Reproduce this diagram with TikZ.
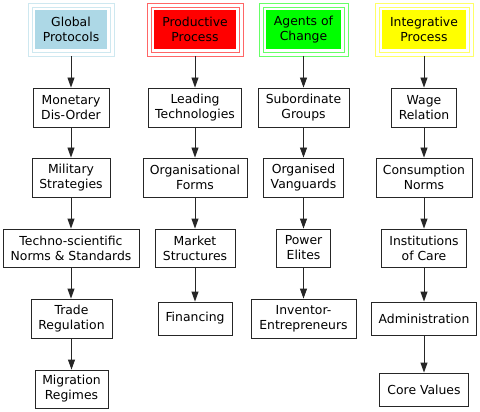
\documentclass[tikz,border=0pt]{standalone}
\usepackage{fontspec}
\setmainfont{DejaVu Sans}
\usetikzlibrary{arrows.meta}
\definecolor{hblue}{HTML}{ADD8E6}
\definecolor{hred}{HTML}{FF0000}
\definecolor{hgreen}{HTML}{00FF00}
\definecolor{hyellow}{HTML}{FFFF00}
\tikzset{
  box/.style={draw=black!85, line width=0.9pt, inner sep=0pt, align=center,
    font=\fontsize{12.4}{15}\selectfont, minimum height=39pt},
  hdr/.style={draw=#1!60, line width=0.8pt, inner sep=0pt, align=center,
    font=\fontsize{12.4}{15}\selectfont, minimum height=53pt,
    path picture={
      \fill[#1] ([xshift=7pt,yshift=-7pt]path picture bounding box.north west)
        rectangle ([xshift=-7pt,yshift=7pt]path picture bounding box.south east);
      \draw[#1!60, line width=0.8pt] ([xshift=4pt,yshift=-4pt]path picture bounding box.north west)
        rectangle ([xshift=-4pt,yshift=4pt]path picture bounding box.south east);
    }},
  arr/.style={draw=black!85, line width=0.9pt, -{Triangle[length=10pt,width=7pt]}}
}
\begin{document}
\begin{tikzpicture}[x=1pt,y=-1pt]
\useasboundingbox (0,0) rectangle (480,412);
% column 1
\node[hdr=hblue, minimum width=86pt] (gp) at (71,29.5) {Global\\Protocols};
\node[box, minimum width=76pt] (md) at (71,107.5) {Monetary\\Dis-Order};
\node[box, minimum width=78pt] (mst) at (71,177.5) {Military\\Strategies};
\node[box, minimum width=136pt, minimum height=38pt] (tn) at (71,248) {Techno-scientific\\Norms \& Standards};
\node[box, minimum width=81pt] (tr) at (71.5,318.5) {Trade\\Regulation};
\node[box, minimum width=73pt, minimum height=38pt] (mr) at (71.5,389) {Migration\\Regimes};
% column 2
\node[hdr=hred, minimum width=96pt] (pp) at (195,29.5) {Productive\\Process};
\node[box, minimum width=93pt] (lt) at (195,107.5) {Leading\\Technologies};
\node[box, minimum width=104pt] (of) at (195,177.5) {Organisational\\Forms};
\node[box, minimum width=80pt, minimum height=38pt] (mks) at (195,248) {Market\\Structures};
\node[box, minimum width=74pt, minimum height=33pt] (fin) at (195,318.5) {Financing};
% column 3
\node[hdr=hgreen, minimum width=89pt] (ag) at (303.5,29.5) {Agents of\\Change};
\node[box, minimum width=91pt] (sg) at (303.5,107.5) {Subordinate\\Groups};
\node[box, minimum width=80pt] (ov) at (303.5,177.5) {Organised\\Vanguards};
\node[box, minimum width=54pt, minimum height=38pt] (pe) at (303.5,248) {Power\\Elites};
\node[box, minimum width=105pt] (ie) at (303.5,318.5) {Inventor-\\Entrepreneurs};
% column 4
\node[hdr=hyellow, minimum width=98pt] (ip) at (424,29.5) {Integrative\\Process};
\node[box, minimum width=65pt] (wr) at (424,107.5) {Wage\\Relation};
\node[box, minimum width=96pt] (cn) at (424,177.5) {Consumption\\Norms};
\node[box, minimum width=85pt, minimum height=38pt] (ic) at (424,248) {Institutions\\of Care};
\node[box, minimum width=105pt, minimum height=33pt] (ad) at (424,318.5) {Administration};
\node[box, minimum width=89pt, minimum height=33pt] (cv) at (424,389.5) {Core Values};
% arrows
\draw[arr] (gp.south) -- (md.north);
\draw[arr] (md.south) -- (mst.north);
\draw[arr] (mst.south) -- (tn.north);
\draw[arr] (tn.south) -- (tr.north -| tn.south);
\draw[arr] (tr.south -| mr.north) -- (mr.north);
\draw[arr] (pp.south) -- (lt.north);
\draw[arr] (lt.south) -- (of.north);
\draw[arr] (of.south) -- (mks.north);
\draw[arr] (mks.south) -- (fin.north);
\draw[arr] (ag.south) -- (sg.north);
\draw[arr] (sg.south) -- (ov.north);
\draw[arr] (ov.south) -- (pe.north);
\draw[arr] (pe.south) -- (ie.north);
\draw[arr] (ip.south) -- (wr.north);
\draw[arr] (wr.south) -- (cn.north);
\draw[arr] (cn.south) -- (ic.north);
\draw[arr] (ic.south) -- (ad.north);
\draw[arr] (ad.south) -- (cv.north);
\end{tikzpicture}
\end{document}
